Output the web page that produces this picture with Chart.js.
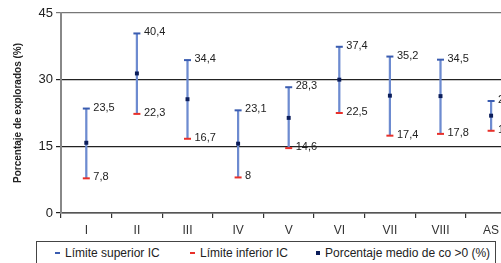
<!DOCTYPE html>
<html>
<head>
<meta charset="utf-8">
<script src="https://cdn.jsdelivr.net/npm/chart.js@4/dist/chart.umd.min.js"></script>
<style>
  html, body { margin: 0; padding: 0; background: #fff; overflow: hidden; }
  #wrap { position: relative; width: 501px; height: 263px; overflow: hidden; }
  #myChart { position: absolute; left: 0; top: 0; }
  #leyenda {
    position: absolute; left: 36px; top: 241px; width: 460px; height: 30px;
    border: 1px solid #444; box-sizing: border-box;
    font: 12px "Liberation Sans", Arial, sans-serif; color: #222;
  }
  #leyenda span.item { position: absolute; top: 4px; white-space: nowrap; }
  .sim { display: inline-block; vertical-align: middle; margin-right: 5px; position: relative; top: -1px; }
</style>
</head>
<body>
<div id="wrap">
  <canvas id="myChart" width="580" height="241"></canvas>
  <div id="leyenda">
    <span class="item" style="left:18px"><span class="sim" style="width:5px;height:2px;background:#3a5cb0"></span>Límite superior IC</span>
    <span class="item" style="left:153px"><span class="sim" style="width:5px;height:2px;background:#e8302a"></span>Límite inferior IC</span>
    <span class="item" style="left:279px"><span class="sim" style="width:4px;height:4px;background:#0b1d5a"></span>Porcentaje medio de co &gt;0 (%)</span>
  </div>
</div>
<script>
  // categorias (la ultima queda fuera de la imagen)
  const categorias = ["I", "II", "III", "IV", "V", "VI", "VII", "VIII", "AS", ""];
  const limiteSuperior = [23.5, 40.4, 34.4, 23.1, 28.3, 37.4, 35.2, 34.5, 25.2];
  const limiteInferior = [7.8, 22.3, 16.7, 8, 14.6, 22.5, 17.4, 17.8, 18.5];
  const medio = [15.8, 31.4, 25.6, 15.6, 21.4, 30.0, 26.4, 26.3, 21.9];
  const ticksY = [0, 15, 30, 45];

  const fuente = '"Liberation Sans", Arial, sans-serif';

  // barra flotante = linea vertical del intervalo
  const intervalos = limiteInferior.map((v, i) => [v, limiteSuperior[i]]);

  const etiquetasPlugin = {
    id: "etiquetas",
    afterDatasetsDraw(chart) {
      const ctx = chart.ctx;
      ctx.save();
      ctx.font = "11px " + fuente;
      ctx.fillStyle = "#222";
      ctx.textBaseline = "middle";
      ctx.textAlign = "left";
      [1, 2].forEach((idx) => {
        const meta = chart.getDatasetMeta(idx);
        const valores = chart.data.datasets[idx].data;
        meta.data.forEach((pt, i) => {
          if (valores[i] == null) return;
          const txt = String(valores[i]).replace(".", ",");
          ctx.fillText(txt, pt.x + 7, pt.y - 1);
        });
      });
      ctx.restore();
    },
  };

  const ctx = document.getElementById("myChart");

  new Chart(ctx, {
    data: {
      labels: categorias,
      datasets: [
        {
          type: "bar",
          data: intervalos,
          backgroundColor: "#6d8bd0",
          borderWidth: 0,
          barThickness: 1.6,
          order: 3,
        },
        {
          type: "line",
          label: "Límite superior IC",
          data: limiteSuperior,
          showLine: false,
          pointStyle: "line",
          pointRadius: 3.5,
          pointBorderWidth: 2,
          pointBorderColor: "#3a5cb0",
          order: 2,
        },
        {
          type: "line",
          label: "Límite inferior IC",
          data: limiteInferior,
          showLine: false,
          pointStyle: "line",
          pointRadius: 3.5,
          pointBorderWidth: 2,
          pointBorderColor: "#e8302a",
          order: 2,
        },
        {
          type: "line",
          label: "Porcentaje medio de co >0 (%)",
          data: medio,
          showLine: false,
          pointStyle: "rect",
          pointRadius: 2.8,
          pointBorderWidth: 0,
          pointBackgroundColor: "#0b1d5a",
          order: 1,
        },
      ],
    },
    options: {
      responsive: false,
      animation: false,
      layout: { padding: { left: 8, top: 13, right: 13, bottom: 0 } },
      plugins: { legend: { display: false }, tooltip: { enabled: false } },
      scales: {
        x: {
          type: "category",
          offset: true,
          grid: {
            offset: true,
            drawOnChartArea: false,
            drawTicks: true,
            tickLength: 5,
            color: "#333",
            lineWidth: 1.2,
          },
          border: { color: "#555", width: 1.5 },
          ticks: { color: "#333", font: { family: fuente, size: 12 }, padding: 5 },
          afterFit: (scale) => { scale.height = 28; },
        },
        y: {
          min: 0,
          max: 45,
          afterBuildTicks: (scale) => { scale.ticks = ticksY.map((v) => ({ value: v })); },
          grid: {
            color: (c) => (c.tick && c.tick.value === 45 ? "#777" : "#222"),
            lineWidth: 1.2,
            tickLength: 5,
          },
          border: { color: "#888", width: 2 },
          ticks: { color: "#222", font: { family: fuente, size: 13 }, padding: 3 },
          title: {
            display: true,
            text: "Porcentaje de explorados (%)",
            color: "#222",
            font: { family: fuente, size: 10, weight: "bold" },
            padding: { top: 4, bottom: 0 },
          },
          afterFit: (scale) => { scale.width = 53; },
        },
      },
    },
    plugins: [etiquetasPlugin],
  });
</script>
</body>
</html>
